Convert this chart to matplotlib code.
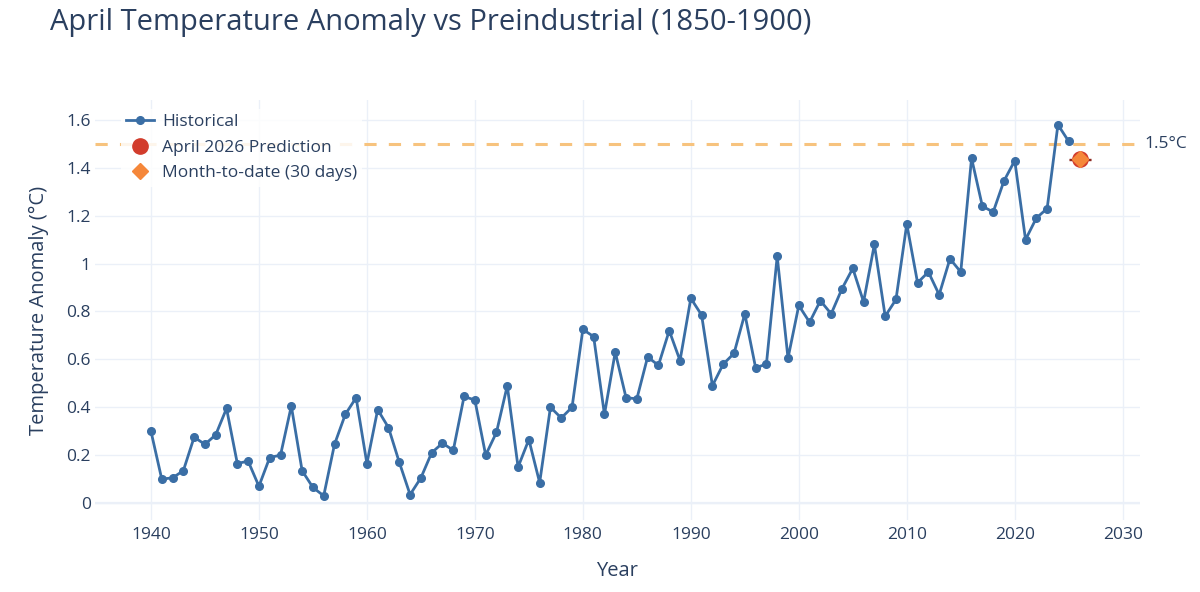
import numpy as np
import matplotlib
matplotlib.use("Agg")
import matplotlib.pyplot as plt

plt.rcParams['font.family'] = ['Open Sans', 'DejaVu Sans']

years = list(range(1940, 2026))
anomaly = [
    0.30, 0.10, 0.105, 0.135, 0.275, 0.245, 0.285, 0.395, 0.165, 0.175,
    0.07, 0.19, 0.20, 0.405, 0.135, 0.065, 0.03, 0.245, 0.37, 0.44,
    0.165, 0.39, 0.315, 0.17, 0.035, 0.105, 0.21, 0.25, 0.22, 0.445,
    0.43, 0.20, 0.295, 0.49, 0.15, 0.265, 0.085, 0.40, 0.355, 0.40,
    0.725, 0.695, 0.37, 0.63, 0.44, 0.435, 0.61, 0.575, 0.72, 0.595,
    0.855, 0.785, 0.49, 0.58, 0.625, 0.79, 0.565, 0.58, 1.03, 0.605,
    0.825, 0.755, 0.845, 0.79, 0.895, 0.98, 0.84, 1.08, 0.78, 0.85,
    1.165, 0.92, 0.965, 0.87, 1.02, 0.965, 1.44, 1.24, 1.215, 1.345,
    1.43, 1.10, 1.19, 1.23, 1.58, 1.51,
]

pred_year = 2026
pred_value = 1.435
pred_err = 0.002
mtd_value = 1.435
threshold = 1.5

text_c = '#2a3f5f'
grid_c = '#EBF0F8'

fig = plt.figure(figsize=(12, 5.92), dpi=100)
ax = fig.add_axes([0.079, 0.1216, 0.871, 0.7094])

# grid
ax.set_axisbelow(True)
ax.grid(True, color=grid_c, lw=1)
ax.axhline(0, color=grid_c, lw=1.6, zorder=0)
for s in ax.spines.values():
    s.set_visible(False)

# 1.5 threshold
ax.axhline(threshold, color='#F7C37E', lw=2.2, ls=(0, (4, 4)), zorder=1)
ax.text(1.004, threshold, '1.5°C', transform=ax.get_yaxis_transform(),
        va='center', ha='left', fontsize=12.5, color=text_c)

ax.plot(years, anomaly, '-o', color='#3a6ea5', lw=2, ms=5.5,
        label='Historical', zorder=3)

ax.errorbar([pred_year], [pred_value], yerr=[pred_err], fmt='none',
            ecolor='#8e2a22', elinewidth=1, capsize=8, capthick=1, zorder=4)
ax.plot([pred_year], [pred_value], 'o', color='#d23c2c', ms=11, ls='none',
        label='April 2026 Prediction', zorder=5)
ax.plot([pred_year], [mtd_value], 'D', color='#f5873a', ms=8.5, ls='none',
        label='Month-to-date (30 days)', zorder=6)

ax.set_xlim(1934.8, 2031.6)
ax.set_ylim(-0.071, 1.683)
ax.set_xticks(range(1940, 2031, 10))
ax.set_yticks([0, 0.2, 0.4, 0.6, 0.8, 1.0, 1.2, 1.4, 1.6])
ax.set_yticklabels(['0', '0.2', '0.4', '0.6', '0.8', '1', '1.2', '1.4', '1.6'])
ax.tick_params(axis='both', length=0, labelsize=12.5, labelcolor=text_c)
ax.tick_params(axis='x', pad=5)
ax.tick_params(axis='y', pad=3)

ax.set_xlabel('Year', fontsize=14.5, color=text_c, labelpad=13)
ax.set_ylabel('Temperature Anomaly (°C)', fontsize=14.5, color=text_c, labelpad=12)

fig.text(0.042, 0.962, 'April Temperature Anomaly vs Preindustrial (1850-1900)',
         fontsize=21, color=text_c, va='center', ha='left')

leg = ax.legend(loc='upper left', bbox_to_anchor=(0.017, 1.0), fontsize=12.5,
                frameon=True, framealpha=0.85, edgecolor='none',
                labelcolor=text_c, handlelength=1.6, borderpad=0.3,
                labelspacing=0.55, handletextpad=0.45)

fig.savefig('out.png', dpi=100, facecolor='white')
